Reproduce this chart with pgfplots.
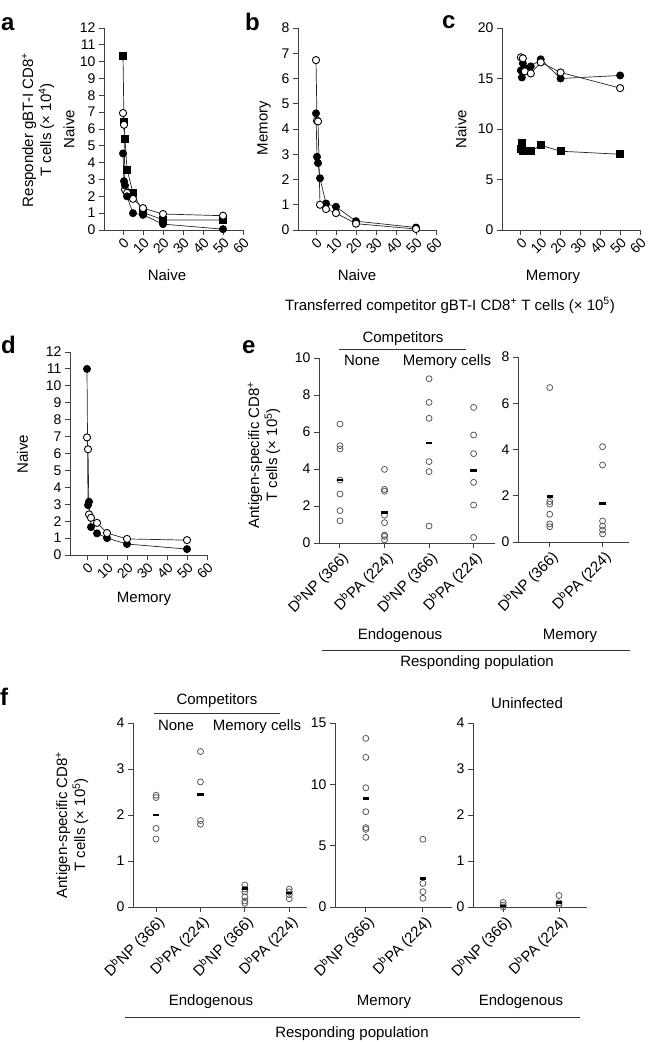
\documentclass[border=0pt]{standalone}
\usepackage{fontspec}
\setmainfont{Liberation Sans}
\usepackage{pgfplots}
\pgfplotsset{compat=1.18}
\pgfplotsset{
  base/.style={
    scale only axis, anchor=south west, clip=false,
    axis lines*=left,
    axis line style={line width=1pt, draw=black!75},
    every tick/.style={line width=1pt, draw=black!75},
    tick align=outside, major tick length=5pt,
    ymin=0,
    tick label style={font=\fontsize{14}{16}\selectfont},
    /pgf/number format/assume math mode=true,
    xticklabel style={rotate=45, anchor=north east, inner sep=1pt},
  },
  curve/.style={base, xmax=60, xtick={0,10,...,60}, height=202pt},
  cat/.style={base, xticklabel style={font=\fontsize{15}{17}\selectfont}},
  fc/.style={black!85, line width=0.7pt, mark=*, mark size=3.6pt, mark options={fill=black, draw=black}},
  oc/.style={black!85, line width=0.7pt, mark=*, mark size=3.6pt, mark options={fill=white, draw=black, line width=0.9pt}},
  sq/.style={black!85, line width=0.7pt, mark=square*, mark size=3.5pt, mark options={fill=black, draw=black}},
  dot/.style={only marks, mark=o, mark size=3pt, mark options={draw=black!65, line width=0.8pt}},
  mean/.style={only marks, mark=-, mark size=3.2pt, mark options={draw=black, line width=2.4pt}},
}
\newcommand{\DNP}{D\textsuperscript{b}NP (366)}
\newcommand{\DPA}{D\textsuperscript{b}PA (224)}
\begin{document}
\begin{tikzpicture}
\useasboundingbox (0,0) rectangle (650pt,-1042pt);
\tikzset{lab/.style={font=\fontsize{15}{18}\selectfont, inner sep=0pt}}
% ---------------- panel a
\begin{axis}[curve, at={(104pt,-230pt)}, width=139pt, xmin=-9.5, ymax=12, ytick={0,1,...,12}]
\addplot[sq] coordinates {(0,10.35) (0.5,6.4) (1,5.4) (2,3.6) (5,2.2) (10,1.05) (20,0.6) (50,0.6)};
\addplot[oc] coordinates {(0,6.95) (0.5,6.25) (1,2.4) (2,2.2) (5,1.85) (10,1.3) (20,0.95) (50,0.85)};
\addplot[fc] coordinates {(0,4.55) (0.5,2.9) (1,2.65) (2,2.0) (5,1.0) (10,0.9) (20,0.35) (50,0.05)};
\end{axis}
% ---------------- panel b
\begin{axis}[curve, at={(298pt,-230pt)}, width=138pt, xmin=-9, ymax=8, ytick={0,1,...,8}]
\addplot[fc] coordinates {(0,4.62) (0.5,2.9) (1,2.65) (2,2.05) (5,1.05) (10,0.92) (20,0.35) (50,0.1)};
\addplot[oc] coordinates {(0,6.73) (0.5,4.33) (1,4.3) (2,1.0) (5,0.83) (10,0.67) (20,0.25) (50,0.04)};
\end{axis}
% ---------------- panel c
\begin{axis}[curve, at={(502pt,-230pt)}, width=138pt, xmin=-9.5, ymax=20, ytick={0,5,...,20}]
\addplot[sq] coordinates {(0,8.0) (0.5,8.6) (1,7.8) (2,7.8) (5,7.8) (10,8.4) (20,7.8) (50,7.5)};
\addplot[fc] coordinates {(0,15.8) (0.5,15.1) (1,16.5) (2,16.0) (5,16.2) (10,16.9) (20,15.0) (50,15.3)};
\addplot[oc] coordinates {(0,17.1) (1,17.0) (2,15.7) (5,15.5) (10,16.6) (20,15.6) (50,14.05)};
\end{axis}
% ---------------- panel d
\begin{axis}[curve, at={(70pt,-555pt)}, width=137pt, height=203pt, xmin=-8.5, ymax=12, ytick={0,1,...,12}]
\addplot[fc] coordinates {(0,11.0) (0.5,2.95) (1,3.15) (2,1.65) (5,1.28) (10,1.0) (20,0.65) (50,0.35)};
\addplot[oc] coordinates {(0,6.95) (0.5,6.25) (1,2.4) (2,2.2) (5,1.9) (10,1.3) (20,0.95) (50,0.88)};
\end{axis}
% ---------------- panel e left
\begin{axis}[cat, at={(319pt,-543pt)}, width=176pt, height=185pt, xmin=-0.47, xmax=3.48, ymax=10, ytick={0,2,...,10},
  xtick={0,1,2,3}, xticklabels={\DNP,\DPA,\DNP,\DPA}]
\addplot[dot] coordinates {(0,6.43) (0,5.26) (0,5.08) (0,3.4) (0,2.65) (0,1.75) (0,1.2)
  (1,3.98) (1,2.9) (1,2.8) (1,1.5) (1,1.1) (1,0.43) (1,0.36) (1,0.17)
  (2,8.88) (2,7.6) (2,6.74) (2,4.4) (2,3.86) (2,0.92)
  (3,7.33) (3,5.84) (3,4.83) (3,3.28) (3,2.05) (3,0.3)};
\addplot[mean] coordinates {(0,3.4) (1,1.64) (2,5.42) (3,3.93)};
\end{axis}
% ---------------- panel e right
\begin{axis}[cat, at={(518pt,-542pt)}, width=111pt, height=185pt, xmin=-0.6, xmax=1.5, ymax=8, ytick={0,2,...,8},
  xtick={0,1}, xticklabels={\DNP,\DPA}]
\addplot[dot] coordinates {(0,6.68) (0,1.75) (0,1.64) (0,1.2) (0,0.78) (0,0.66)
  (1,4.12) (1,3.33) (1,0.91) (1,0.69) (1,0.52) (1,0.35)};
\addplot[mean] coordinates {(0,1.96) (1,1.67)};
\end{axis}
% ---------------- panel f left
\begin{axis}[cat, at={(133pt,-907pt)}, width=174pt, height=184pt, xmin=-0.52, xmax=3.4, ymax=4, ytick={0,1,...,4},
  xtick={0,1,2,3}, xticklabels={\DNP,\DPA,\DNP,\DPA}]
\addplot[dot] coordinates {(0,2.43) (0,2.38) (0,1.71) (0,1.48)
  (1,3.38) (1,2.72) (1,1.88) (1,1.8)
  (2,0.48) (2,0.39) (2,0.33) (2,0.22) (2,0.13) (2,0.08)
  (3,0.39) (3,0.33) (3,0.27) (3,0.18)};
\addplot[mean] coordinates {(0,2.0) (1,2.45) (2,0.4) (3,0.31)};
\end{axis}
% ---------------- panel f middle
\begin{axis}[cat, at={(335pt,-907pt)}, width=117pt, height=184pt, xmin=-0.54, xmax=1.51, ymax=15, ytick={0,5,...,15},
  xtick={0,1}, xticklabels={\DNP,\DPA}]
\addplot[dot] coordinates {(0,13.75) (0,12.2) (0,9.72) (0,7.77) (0,6.47) (0,6.33) (0,5.68)
  (1,5.52) (1,1.93) (1,1.25) (1,0.71)};
\addplot[mean] coordinates {(0,8.86) (1,2.34)};
\end{axis}
% ---------------- panel f right
\begin{axis}[cat, at={(473pt,-907pt)}, width=114pt, height=184pt, xmin=-0.54, xmax=1.5, ymax=4, ytick={0,1,...,4},
  xtick={0,1}, xticklabels={\DNP,\DPA}]
\addplot[dot] coordinates {(0,0.1) (0,0.04) (0,0.0) (1,0.25) (1,0.09) (1,0.05)};
\addplot[mean] coordinates {(0,0.02) (1,0.1)};
\end{axis}
% ---------------- panel letters
\begin{scope}[every node/.style={font=\bfseries\fontsize{24}{24}\selectfont, inner sep=0pt, anchor=base west}]
\node at (1pt,-30pt) {a};
\node at (245pt,-30pt) {b};
\node at (442pt,-28pt) {c};
\node at (1pt,-353pt) {d};
\node at (242pt,-353pt) {e};
\node at (0pt,-705pt) {f};
\end{scope}
% ---------------- labels a-d
\node[lab, rotate=90, align=center] at (38pt,-130pt) {Responder gBT-I CD8\textsuperscript{+}\\T cells (× 10\textsuperscript{4})};
\node[lab, rotate=90] at (69pt,-129pt) {Naive};
\node[lab, rotate=90] at (264pt,-128pt) {Memory};
\node[lab, rotate=90] at (461pt,-129pt) {Naive};
\node[lab, rotate=90] at (22.5pt,-454pt) {Naive};
\node[lab, anchor=base] at (167pt,-280pt) {Naive};
\node[lab, anchor=base] at (357pt,-280pt) {Naive};
\node[lab, anchor=base] at (553pt,-280pt) {Memory};
\node[lab, anchor=base] at (144pt,-602pt) {Memory};
\node[lab, anchor=base] at (450pt,-310pt) {Transferred competitor gBT-I CD8\textsuperscript{+} T cells (× 10\textsuperscript{5})};
% ---------------- labels e
\node[lab, rotate=90, align=center] at (264pt,-455pt) {Antigen-specific CD8\textsuperscript{+}\\T cells (× 10\textsuperscript{5})};
\node[lab, anchor=base] at (403pt,-342.5pt) {Competitors};
\draw[line width=1pt, black!80] (339pt,-349pt) -- (466pt,-349pt);
\node[lab, anchor=base] at (362pt,-365.5pt) {None};
\node[lab, anchor=base] at (447pt,-365.5pt) {Memory cells};
\node[lab, anchor=base] at (400pt,-639pt) {Endogenous};
\node[lab, anchor=base] at (570pt,-639pt) {Memory};
\draw[line width=1pt, black!80] (322pt,-650pt) -- (630pt,-650pt);
\node[lab, anchor=base] at (477pt,-666pt) {Responding population};
% ---------------- labels f
\node[lab, rotate=90, align=center] at (72pt,-825pt) {Antigen-specific CD8\textsuperscript{+}\\T cells (× 10\textsuperscript{5})};
\node[lab, anchor=base] at (217pt,-704pt) {Competitors};
\draw[line width=1pt, black!80] (154pt,-713pt) -- (280pt,-713pt);
\node[lab, anchor=base] at (176pt,-730pt) {None};
\node[lab, anchor=base] at (257pt,-730pt) {Memory cells};
\node[lab, anchor=base] at (527pt,-708pt) {Uninfected};
\node[lab, anchor=base] at (211pt,-1005pt) {Endogenous};
\node[lab, anchor=base] at (384pt,-1005pt) {Memory};
\node[lab, anchor=base] at (521pt,-1005pt) {Endogenous};
\draw[line width=1pt, black!80] (125pt,-1017pt) -- (580pt,-1017pt);
\node[lab, anchor=base] at (352pt,-1037pt) {Responding population};
\end{tikzpicture}
\end{document}
